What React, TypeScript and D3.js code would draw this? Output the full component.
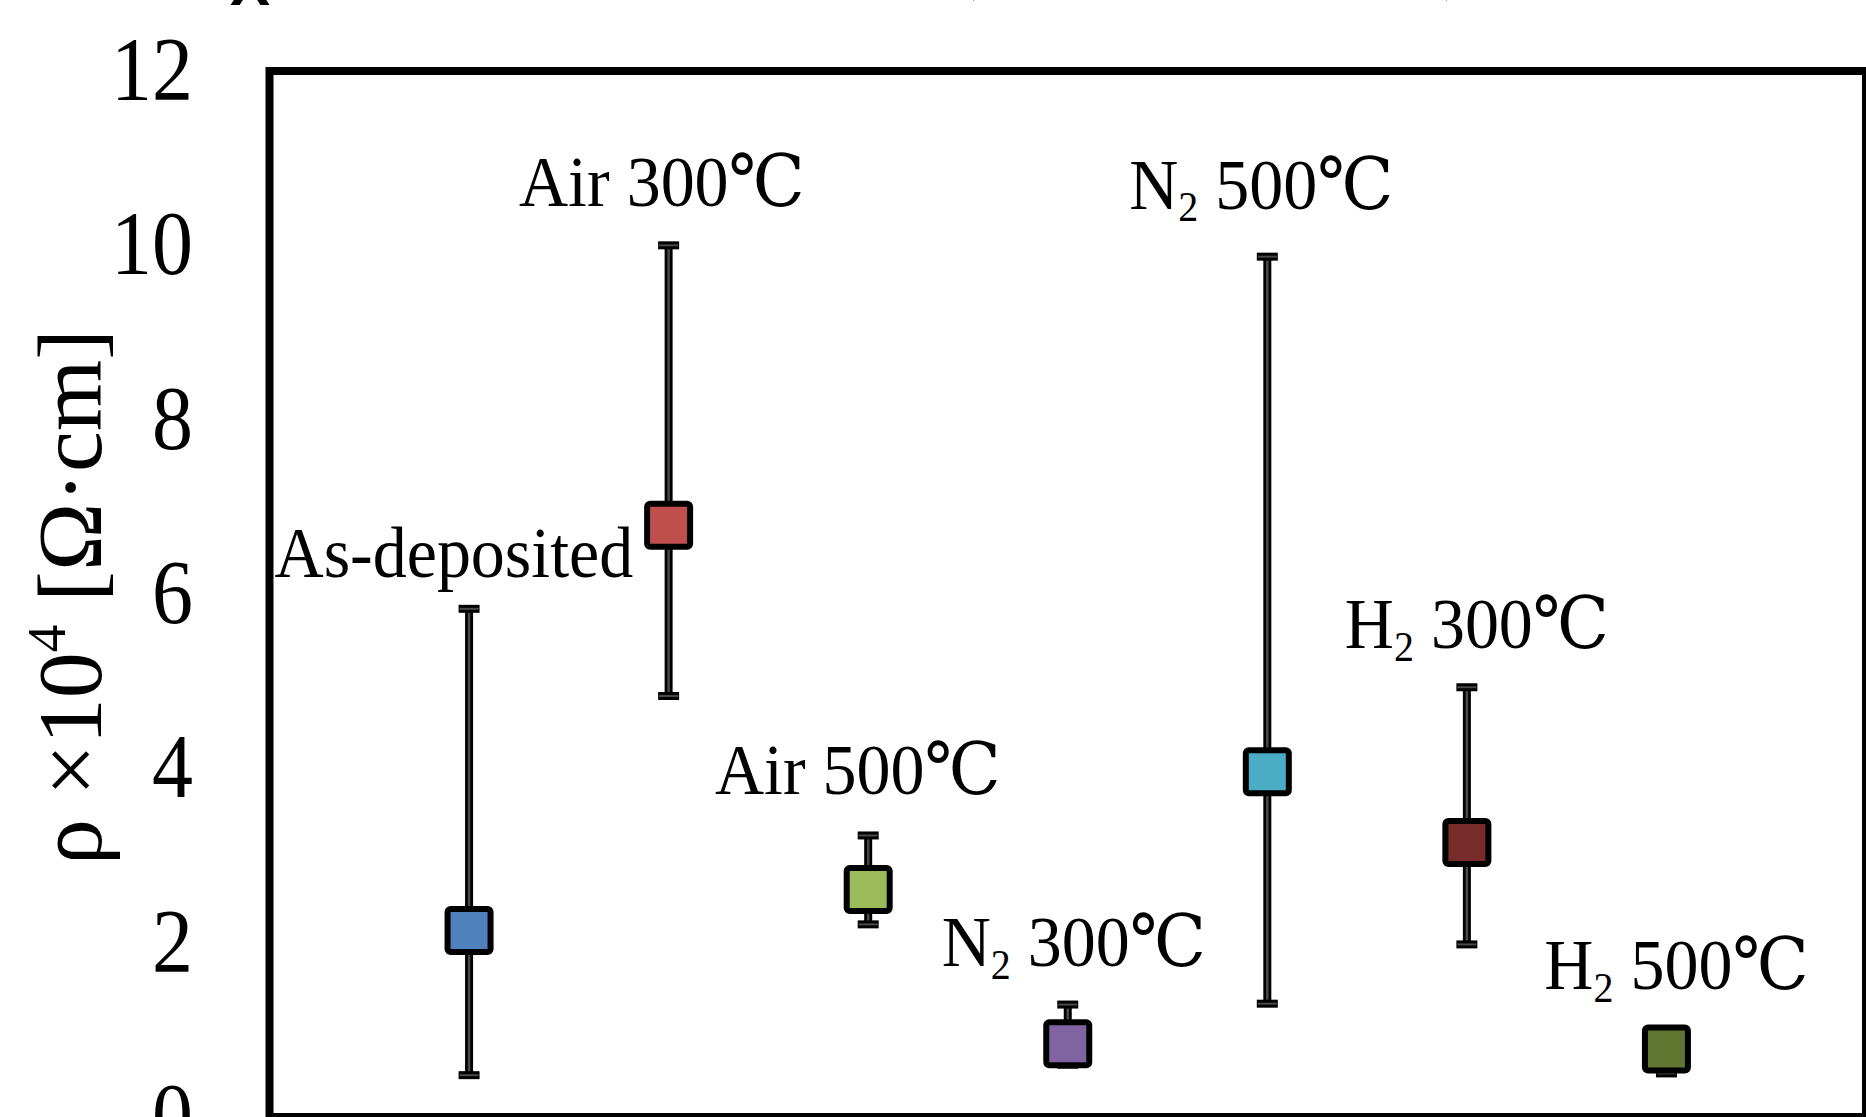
import React from "react";
import * as d3 from "d3";

const categories = ["As-deposited", "Air 300℃", "Air 500℃", "N2 300℃", "N2 500℃", "H2 300℃", "H2 500℃"];
const values = [2.14, 6.79, 2.61, 0.84, 3.96, 3.15, 0.78];
const upperErr = [5.83, 10.0, 3.23, 1.29, 9.87, 4.93, 0.85];
const lowerErr = [0.48, 4.83, 2.21, 0.6, 1.3, 1.98, 0.5];
const colors = ["#4F81BD", "#C0504D", "#9BBB59", "#8064A2", "#4BACC6", "#772C2A", "#5F7530"];
const yTicks = [0, 2, 4, 6, 8, 10, 12];
// label anchors in data units (x in category units, y = baseline value)
const labelX = [0.924, 1.966, 2.948, 4.03, 4.97, 6.05, 7.05];
const labelY = [6.19, 10.45, 3.705, 1.732, 10.42, 5.38, 1.47];

const W = 1866;
const H = 1117;
const FONT = "'Liberation Serif', 'Times New Roman', 'DejaVu Serif', serif";

export default function App() {
  const x = d3.scaleLinear().domain([0, 8]).range([269.5, 1866]);
  const y = d3.scaleLinear().domain([0, 12]).range([1117, 71]);
  const mk = 43;
  const cap = 21;

  const renderLabel = (t: string) => {
    const m = t.match(/^([NH])2 (.*)$/);
    if (m) {
      return (
        <>
          {m[1]}
          <tspan fontSize={40} dy={12}>2</tspan>
          <tspan dy={-12}>{" " + m[2]}</tspan>
        </>
      );
    }
    return t;
  };

  return (
    <svg
      width={W}
      height={H}
      style={{ position: "absolute", left: 0, top: 0, background: "#fff" }}
      fontFamily={FONT}
    >
      <rect x={0} y={0} width={W} height={H} fill="#fff" />
      {/* cut-off title fragments at top */}
      <text x={250} y={5} fontSize={60} fontWeight="bold" fontFamily="'Liberation Sans', Arial, sans-serif" textAnchor="middle">X</text>
      <text x={966} y={-12} fontSize={60} textAnchor="middle">(</text>
      <text x={1454} y={-12} fontSize={60} textAnchor="middle">)</text>

      {/* plot frame */}
      <rect x={x(0)} y={y(12)} width={x(8) - x(0)} height={y(0) - y(12)} fill="none" stroke="#000" strokeWidth={8} />

      {/* y tick labels */}
      {yTicks.map((t) => (
        <text
          key={t}
          transform={`translate(193, ${y(t) + 29}) scale(1,1.1)`}
          textAnchor="end"
          fontSize={82}
          fill="#000"
        >
          {t}
        </text>
      ))}

      {/* y axis title */}
      <text transform={`translate(101, 597) rotate(-90)`} textAnchor="middle" fontSize={92} fill="#000">
        ρ ×10<tspan fontSize={55} dy={-36}>4</tspan>
        <tspan dy={36}>{" [Ω·cm]"}</tspan>
      </text>

      {/* error bars */}
      {categories.map((c, i) => {
        const cx = x(i + 1);
        const y1 = y(upperErr[i]);
        const y2 = y(lowerErr[i]);
        return (
          <g key={"e" + c}>
            <line x1={cx} x2={cx} y1={y1} y2={y2} stroke="#000" strokeWidth={8} />
            <line x1={cx} x2={cx} y1={y1} y2={y2} stroke="#4a4a4a" strokeWidth={2.5} />
            {[y1, y2].map((yy, k) => (
              <g key={k}>
                <line x1={cx - cap / 2} x2={cx + cap / 2} y1={yy} y2={yy} stroke="#000" strokeWidth={8} />
                <line x1={cx - cap / 2 + 1} x2={cx + cap / 2 - 1} y1={yy} y2={yy} stroke="#4a4a4a" strokeWidth={2} />
              </g>
            ))}
          </g>
        );
      })}

      {/* markers */}
      {categories.map((c, i) => (
        <rect
          key={"m" + c}
          x={x(i + 1) - mk / 2}
          y={y(values[i]) - mk / 2}
          width={mk}
          height={mk}
          rx={3}
          fill={colors[i]}
          stroke="#000"
          strokeWidth={6}
        />
      ))}

      {/* data labels */}
      {categories.map((c, i) => (
        <text
          key={"l" + c}
          transform={`translate(${x(labelX[i])}, ${y(labelY[i])}) scale(1,1.06)`}
          textAnchor="middle"
          fontSize={68}
          fill="#000"
        >
          {renderLabel(c)}
        </text>
      ))}
    </svg>
  );
}
